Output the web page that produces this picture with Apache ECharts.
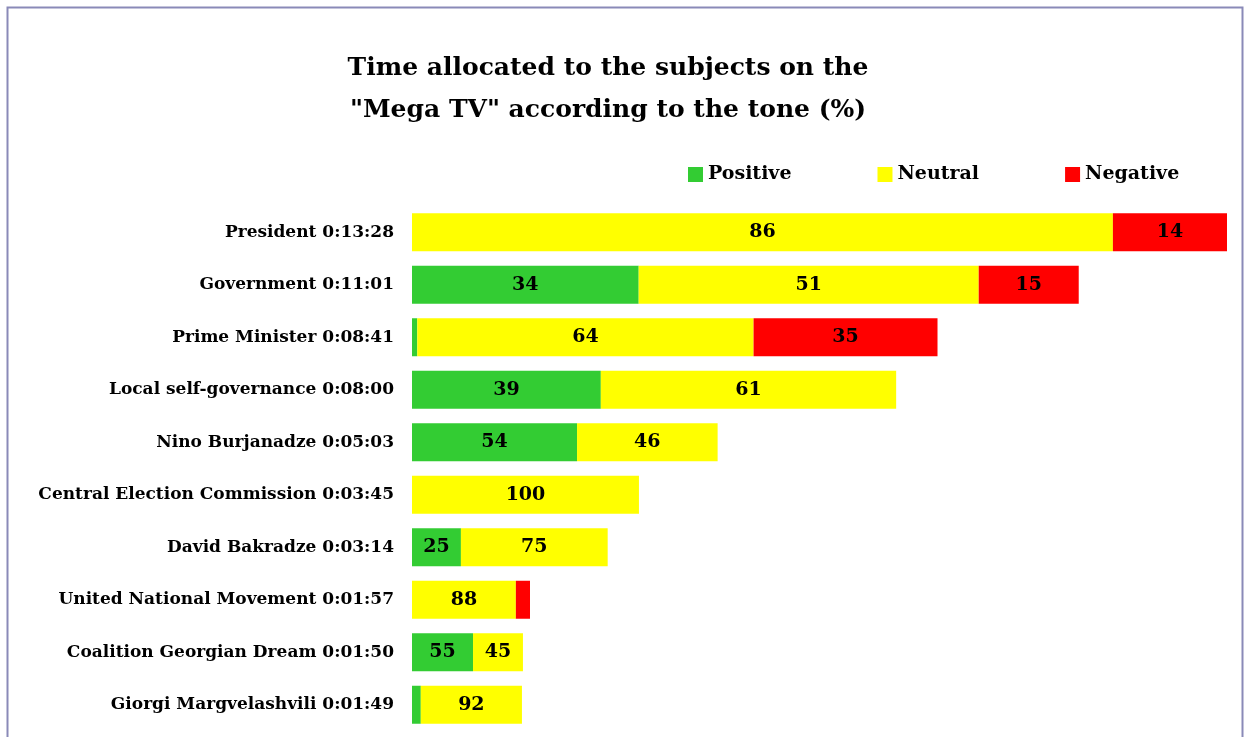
<!DOCTYPE html>
<html>
<head>
<meta charset="utf-8">
<script src="https://cdn.jsdelivr.net/npm/echarts@6/dist/echarts.min.js"></script>
<style>
html, body { margin: 0; padding: 0; background: #fff; }
#chart { width: 1245px; height: 737px; }
</style>
</head>
<body>
<div id="chart"></div>
<script>
// subjects, top to bottom, with their total airtime
let subjects = ['President', 'Government', 'Prime Minister', 'Local self-governance', 'Nino Burjanadze',
    'Central Election Commission', 'David Bakradze', 'United National Movement',
    'Coalition Georgian Dream', 'Giorgi Margvelashvili']
let durations = ['0:13:28', '0:11:01', '0:08:41', '0:08:00', '0:05:03', '0:03:45', '0:03:14', '0:01:57', '0:01:50', '0:01:49']
// share of tone, percent
let positive = [0, 34, 1, 39, 54, 0, 25, 0, 55, 8]
let neutral = [86, 51, 64, 61, 46, 100, 75, 88, 45, 92]
let negative = [14, 15, 35, 0, 0, 0, 0, 12, 0, 0]

function toSeconds(t) {
    let p = t.split(':').map(Number)
    return p[0] * 3600 + p[1] * 60 + p[2]
}
let seconds = durations.map(toSeconds)
let labels = subjects.map((s, i) => s + ' ' + durations[i])

let font = '"DejaVu Serif", serif'

function makeSeries(name, pct, color) {
    return {
        name: name,
        type: 'bar',
        stack: 'tone',
        barWidth: 38,
        itemStyle: { color: color },
        label: {
            show: true,
            position: 'inside',
            color: '#000',
            fontFamily: font,
            fontWeight: 'bold',
            fontSize: 19,
            formatter: function (p) {
                let v = pct[p.dataIndex]
                return v >= 13 ? String(v) : ''
            }
        },
        data: seconds.map((s, i) => s * pct[i] / 100)
    }
}

let chart = echarts.init(document.getElementById('chart'))
chart.setOption({
    backgroundColor: '#fff',
    animation: false,
    title: {
        text: 'Time allocated to the subjects on the\n"Mega TV" according to the tone (%)',
        left: 603,
        top: 42,
        textAlign: 'center',
        textStyle: {
            fontFamily: font,
            fontWeight: 'bold',
            fontSize: 25,
            lineHeight: 42,
            color: '#000'
        }
    },
    graphic: [{
        type: 'rect',
        shape: { x: 7.5, y: 7.5, width: 1235, height: 800 },
        style: { fill: 'none', stroke: '#8a8ab8', lineWidth: 2 },
        silent: true
    }],
    legend: {
        left: 683,
        top: 160,
        itemWidth: 15,
        itemHeight: 15,
        itemGap: 86,
        icon: 'rect',
        textStyle: {
            fontFamily: font,
            fontWeight: 'bold',
            fontSize: 19,
            color: '#000'
        },
        data: ['Positive', 'Neutral', 'Negative']
    },
    grid: {
        left: 412,
        right: 18,
        top: 206,
        bottom: 6,
        containLabel: false
    },
    xAxis: {
        type: 'value',
        min: 0,
        max: 'dataMax',
        show: false
    },
    yAxis: {
        type: 'category',
        inverse: true,
        data: labels,
        axisLine: { show: false },
        axisTick: { show: false },
        axisLabel: {
            margin: 18,
            color: '#000',
            fontFamily: font,
            fontWeight: 'bold',
            fontSize: 17
        }
    },
    series: [
        makeSeries('Positive', positive, '#33cc33'),
        makeSeries('Neutral', neutral, '#ffff00'),
        makeSeries('Negative', negative, '#ff0000')
    ]
})
</script>
</body>
</html>
